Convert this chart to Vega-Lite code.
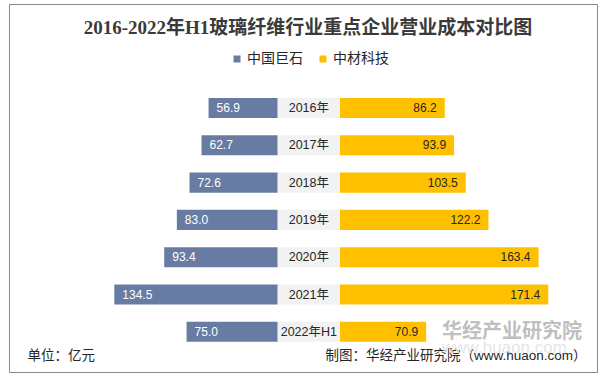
{
  "$schema": "https://vega.github.io/schema/vega-lite/v6.json",
  "width": 588,
  "height": 368,
  "autosize": {"type": "none"},
  "padding": {"left": 9, "top": 4, "right": 4, "bottom": 4},
  "background": "white",
  "title": {
    "text": "2016-2022年H1玻璃纤维行业重点企业营业成本对比图",
    "font": "Liberation Serif, Noto Sans CJK SC",
    "fontSize": 19,
    "fontWeight": "bold",
    "color": "#3a3a3a",
    "anchor": "middle",
    "baseline": "middle",
    "offset": -43,
    "dx": 5
  },
  "config": {
    "view": {"stroke": "#898989", "strokeWidth": 1},
    "font": "Liberation Sans, Noto Sans CJK SC"
  },
  "data": {
    "values": [
      {"year": "2016年", "jushi": 56.9, "zhongcai": 86.2},
      {"year": "2017年", "jushi": 62.7, "zhongcai": 93.9},
      {"year": "2018年", "jushi": 72.6, "zhongcai": 103.5},
      {"year": "2019年", "jushi": 83.0, "zhongcai": 122.2},
      {"year": "2020年", "jushi": 93.4, "zhongcai": 163.4},
      {"year": "2021年", "jushi": 134.5, "zhongcai": 171.4},
      {"year": "2022年H1", "jushi": 75.0, "zhongcai": 70.9}
    ]
  },
  "encoding": {
    "y": {
      "field": "year",
      "type": "nominal",
      "scale": {
        "domain": ["2016年", "2017年", "2018年", "2019年", "2020年", "2021年", "2022年H1"],
        "range": [85.35, 346.45],
        "paddingInner": 0.46,
        "paddingOuter": 0.23
      },
      "axis": {
        "orient": "left",
        "title": "单位：亿元",
        "labels": false,
        "ticks": false,
        "domain": false,
        "grid": false,
        "titleAngle": 0,
        "titleX": 18,
        "titleY": 351,
        "titleAlign": "left",
        "titleBaseline": "middle",
        "titleFontSize": 13.5,
        "titleFontWeight": "normal",
        "titleColor": "#262626",
        "titleFont": "Liberation Sans, Noto Sans CJK SC"
      }
    }
  },
  "layer": [
    {
      "mark": {"type": "bar"},
      "encoding": {
        "x": {"field": "jushi", "type": "quantitative", "scale": {"domain": [0, 140], "range": [268.7, 98.6], "nice": false}, "axis": null},
        "color": {
          "datum": "中国巨石",
          "type": "nominal",
          "scale": {"domain": ["中国巨石", "中材科技"], "range": ["#687ca3", "#ffc000"]},
          "legend": {
            "title": null,
            "orient": "none",
            "direction": "horizontal",
            "legendX": 221,
            "legendY": 48,
            "symbolType": "square",
            "symbolSize": 49,
            "symbolStrokeWidth": 0,
            "labelFontSize": 14,
            "labelColor": "#262626",
            "labelOffset": 3,
            "columnPadding": 13,
            "padding": 0,
            "labelFont": "Liberation Sans, Noto Sans CJK SC"
          }
        }
      }
    },
    {
      "mark": {"type": "text", "align": "left", "baseline": "middle", "dx": 8, "fontSize": 12, "color": "white"},
      "encoding": {
        "x": {"field": "jushi", "type": "quantitative", "scale": {"domain": [0, 140], "range": [268.7, 98.6], "nice": false}, "axis": null},
        "text": {"field": "jushi", "type": "quantitative", "format": ".1f"}
      }
    },
    {
      "mark": {"type": "bar", "color": "#f2f2f2"},
      "encoding": {
        "x": {"datum": 0, "type": "quantitative", "scale": {"domain": [0, 1], "range": [268.7, 331], "nice": false}, "axis": null},
        "x2": {"datum": 1}
      }
    },
    {
      "mark": {"type": "text", "align": "center", "baseline": "middle", "fontSize": 12.5, "color": "#262626"},
      "encoding": {
        "x": {"datum": 0.5, "type": "quantitative", "scale": {"domain": [0, 1], "range": [268.7, 331], "nice": false}, "axis": null},
        "text": {"field": "year", "type": "nominal"}
      }
    },
    {
      "mark": {"type": "bar"},
      "encoding": {
        "x": {
          "field": "zhongcai",
          "type": "quantitative",
          "scale": {"domain": [0, 180], "range": [331, 549.7], "nice": false},
          "axis": {
            "orient": "bottom",
            "title": "制图：华经产业研究院（www.huaon.com）",
            "labels": false,
            "ticks": false,
            "domain": false,
            "grid": false,
            "titleX": 577,
            "titleY": -17,
            "titleAlign": "right",
            "titleAnchor": null,
            "titleBaseline": "middle",
            "titleFontSize": 13.5,
            "titleFontWeight": "normal",
            "titleColor": "#262626",
            "titleFont": "Liberation Sans, Noto Sans CJK SC"
          }
        },
        "color": {"datum": "中材科技", "type": "nominal"}
      }
    },
    {
      "mark": {"type": "text", "align": "right", "baseline": "middle", "dx": -8, "fontSize": 12, "color": "#262626"},
      "encoding": {
        "x": {"field": "zhongcai", "type": "quantitative", "scale": {"domain": [0, 180], "range": [331, 549.7], "nice": false}, "axis": null},
        "text": {"field": "zhongcai", "type": "quantitative", "format": ".1f"}
      }
    },
    {
      "data": {"values": [{"label": "华经产业研究院", "site": "www.huaon.com"}]},
      "layer": [
        {
          "mark": {"type": "text", "align": "left", "baseline": "middle", "fontSize": 20, "fontWeight": "bold", "color": "#bfbfbf"},
          "encoding": {
            "x": {"datum": 84, "type": "quantitative", "scale": {"domain": [0, 180], "range": [331, 549.7], "nice": false}, "axis": null},
            "y": {"datum": "2022年H1", "type": "nominal"},
            "text": {"field": "label", "type": "nominal"}
          }
        },
        {
          "mark": {"type": "text", "align": "left", "baseline": "middle", "fontSize": 17, "dy": 16, "color": "#e6e6e6"},
          "encoding": {
            "x": {"datum": 84, "type": "quantitative", "scale": {"domain": [0, 180], "range": [331, 549.7], "nice": false}, "axis": null},
            "y": {"datum": "2022年H1", "type": "nominal"},
            "text": {"field": "site", "type": "nominal"}
          }
        }
      ]
    }
  ],
  "resolve": {"scale": {"x": "independent"}, "axis": {"x": "independent"}}
}
